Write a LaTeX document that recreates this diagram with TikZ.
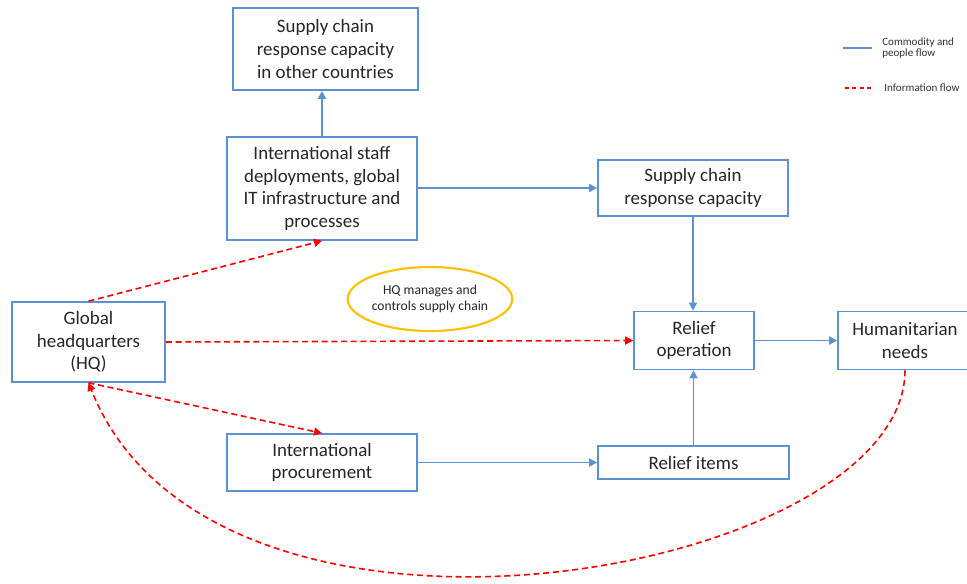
\documentclass[tikz,border=0pt]{standalone}
\usepackage{fontspec}
\setmainfont{Carlito}
\usetikzlibrary{arrows.meta,shapes.geometric}
\definecolor{boxblue}{RGB}{91,146,210}
\definecolor{flowred}{RGB}{255,0,0}
\definecolor{gold}{RGB}{255,192,0}
\def\px{0.75pt}
\tikzset{
  box/.style={draw=boxblue,line width=1.2pt,align=center,inner sep=0pt,
    font=\fontsize{14.2}{17}\selectfont,text=black!85},
  flow/.style={draw=boxblue,line width=1.3pt,-{Triangle[length=6pt,width=6pt]}},
  info/.style={draw=flowred,line width=1.2pt,dash pattern=on 4.5pt off 2.8pt,
    -{Triangle[length=6pt,width=6pt]}},
  legendtext/.style={anchor=west,align=left,inner sep=0pt,
    font=\fontsize{8.3}{8.2}\selectfont,text=black!80},
}
\begin{document}
\begin{tikzpicture}[x=0.75pt,y=-0.75pt]
\useasboundingbox (0,0) rectangle (967,583);
\node[box,minimum width=185*\px,minimum height=82*\px] (sco) at (325.5,49)
  {Supply chain\\response capacity\\in other countries};
\node[box,minimum width=190*\px,minimum height=103*\px] (isd) at (322,188.5)
  {International staff\\deployments, global\\IT infrastructure and\\processes};
\node[box,minimum width=190*\px,minimum height=56*\px] (scr) at (693,188)
  {Supply chain\\response capacity};
\node[box,minimum width=153*\px,minimum height=80*\px] (hq) at (88.5,342)
  {Global\\headquarters\\(HQ)};
\node[box,minimum width=120*\px,minimum height=58*\px] (rop) at (694,340.5)
  {Relief\\operation};
\node[box,minimum width=134*\px,minimum height=58*\px] (hum) at (905,340.5)
  {Humanitarian\\needs};
\node[box,minimum width=190*\px,minimum height=57*\px] (ipr) at (322,462.5)
  {International\\procurement};
\node[box,minimum width=191*\px,minimum height=33*\px] (rit) at (693.5,462.5)
  {Relief items};
\node[ellipse,draw=gold,line width=1.6pt,minimum width=156*\px,minimum height=64*\px,
  inner sep=0pt,align=center,font=\fontsize{10.2}{12}\selectfont,text=black!85] (ell) at (430,299)
  {HQ manages and\\controls supply chain};

% commodity and people flow
\draw[flow] (isd.north) -- (isd.north |- sco.south);
\draw[flow] (isd.east |- scr.west) -- (scr.west);
\draw[flow] (scr.south) -- (scr.south |- rop.north);
\draw[flow] (rit.north) -- (rit.north |- rop.south);
\draw[flow] (rop.east) -- (hum.west);
\draw[flow] (ipr.east) -- (rit.west);

% information flow
\draw[info] (hq.north) -- (isd.south);
\draw[info] (hq.east) -- (rop.west);
\draw[info] (hq.south) -- (ipr.north);
\draw[info] (hum.south) .. controls (905,575) and (215,700) .. (hq.south);

% legend
\coordinate (l1a) at (843,48);
\coordinate (l1b) at (872,48);
\coordinate (l2a) at (845,88);
\coordinate (l2b) at (873,88);
\draw[boxblue,line width=1.1pt] (l1a) -- (l1b);
\draw[flowred,line width=1.1pt,dash pattern=on 3pt off 2.5pt] (l2a) -- (l2b);
\node[legendtext] (lt1) at (882,48) {Commodity and\\people flow};
\node[legendtext] (lt2) at (884,88) {Information flow};
\end{tikzpicture}
\end{document}
